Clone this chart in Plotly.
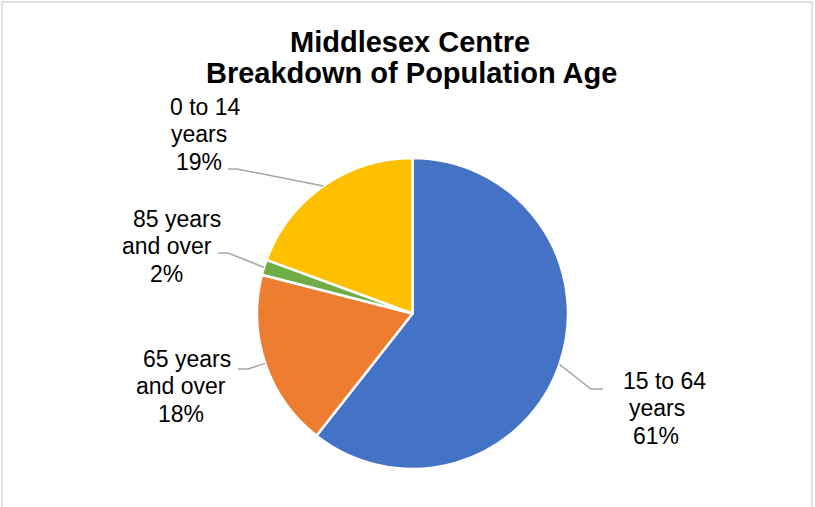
import math
import plotly.graph_objects as go

# ---- data ----
categories = ["15 to 64 years", "65 years and over", "85 years and over", "0 to 14 years"]
values = [60.6, 18.4, 1.6, 19.4]
label_lines = [["15 to 64", "years"], ["65 years", "and over"], ["85 years", "and over"], ["0 to 14", "years"]]
colors = ["#4472C4", "#ED7D31", "#70AD47", "#FFC000"]
title_lines = ["Middlesex Centre", "Breakdown of Population Age"]

# ---- layout (pixels) ----
W, H = 815, 507
CX, CY, R = 412.5, 313.5, 155.5
FS = 23
LINE = 27.5
# per slice: line centre x's, first baseline y, leader (text-end x, elbow x, elbow y)
label_pos = [
    ([664, 657, 656], 389, (603, 591, 389)),
    ([186.7, 180.5, 181], 367, (238, 248, 369)),
    ([177, 167, 166.5], 227, (218, 228, 253)),
    ([205, 199, 199], 115, (228, 237, 169)),
]

def px(x):
    return x / W

def py(y):
    return 1 - y / H

fig = go.Figure(go.Pie(
    labels=categories, values=values, sort=False, direction="clockwise", rotation=0,
    textinfo="none", hoverinfo="label+percent",
    marker=dict(colors=colors, line=dict(color="white", width=2.5)),
    domain=dict(x=[px(CX - R), px(CX + R)], y=[py(CY + R), py(CY - R)]),
    showlegend=False,
))

total = sum(values)
annotations = []
shapes = []
cum = 0
for v, lines, (xs, base, (tx, ex, ey)) in zip(values, label_lines, label_pos):
    mid = (cum + v / 2) / total * 2 * math.pi
    cum += v
    edge_x = CX + R * math.sin(mid)
    edge_y = CY - R * math.cos(mid)
    pct = f"{round(v / total * 100)}%"
    for i, t in enumerate(lines + [pct]):
        b = base + i * LINE
        annotations.append(dict(
            x=px(xs[i]), y=py(b - 0.36 * FS), xref="paper", yref="paper",
            text=t, showarrow=False, xanchor="center", yanchor="middle",
            font=dict(family="Liberation Sans, Arial", size=FS, color="#000000"),
        ))
    path = f"M {px(tx)} {py(ey)} L {px(ex)} {py(ey)} L {px(edge_x)} {py(edge_y)}"
    shapes.append(dict(type="path", xref="paper", yref="paper", path=path,
                       line=dict(color="#A6A6A6", width=1.5)))

title_x = [410, 411]
title_base = [52, 83]
for t, x, b in zip(title_lines, title_x, title_base):
    annotations.append(dict(
        x=px(x), y=py(b - 0.36 * 29), xref="paper", yref="paper",
        text=f"<b>{t}</b>", showarrow=False, xanchor="center", yanchor="middle",
        font=dict(family="Liberation Sans, Arial", size=29, color="#000000"),
    ))

shapes.append(dict(type="rect", xref="paper", yref="paper",
                   x0=px(2), x1=px(812), y0=py(509), y1=py(2),
                   line=dict(color="#D9D9D9", width=1.5), fillcolor="rgba(0,0,0,0)"))

fig.update_layout(
    width=W, height=H, margin=dict(l=0, r=0, t=0, b=0),
    paper_bgcolor="white", plot_bgcolor="white",
    annotations=annotations, shapes=shapes, showlegend=False,
)

fig.write_html("out.html", config={"displayModeBar": False},
               post_script="document.body.style.margin='0';document.body.style.overflow='hidden';")
